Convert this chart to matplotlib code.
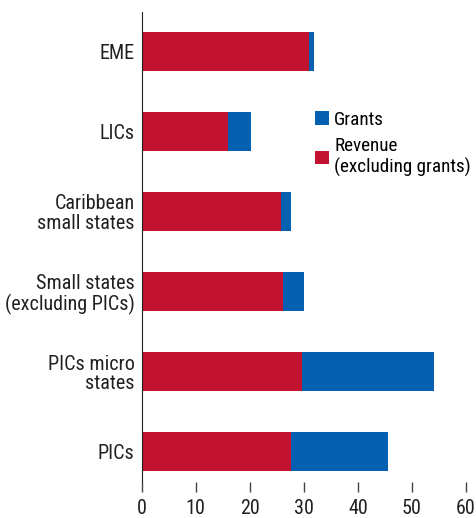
import matplotlib
matplotlib.use("Agg")
import matplotlib.pyplot as plt
import numpy as np

categories = ["EME", "LICs", "Caribbean\nsmall states", "Small states\n(excluding PICs)",
              "PICs micro\nstates", "PICs"]
revenue = [31.0, 15.9, 25.7, 26.2, 29.6, 27.7]
grants = [0.8, 4.3, 1.9, 3.8, 24.4, 17.8]
xticks = [0, 10, 20, 30, 40, 50, 60]

red = "#C3122F"
blue = "#0460B0"

plt.rcParams.update({
    "font.family": ["Roboto Condensed", "DejaVu Sans"],
    "font.size": 14.5,
})

fig = plt.figure(figsize=[4.77, 5.18], dpi=100)
ax = fig.add_axes([0.297, 0.0695, 0.68, 0.907])

ys = np.arange(len(categories))[::-1]
ax.barh(ys, revenue, height=0.49, color=red, label="Revenue\n(excluding grants)")
ax.barh(ys, grants, left=revenue, height=0.49, color=blue, label="Grants")

ax.set_yticks(ys)
ax.set_yticklabels(categories, linespacing=1.05)
ax.set_xticks(xticks)
ax.set_xlim(0, 60)
ax.set_ylim(-0.38, 5.49)

for s in ["top", "right", "bottom"]:
    ax.spines[s].set_visible(False)
ax.spines["left"].set_color("#222222")
ax.tick_params(axis="y", length=0, pad=5, colors="#231f20")
ax.tick_params(axis="x", length=7, width=1, color="#444444", pad=5, labelcolor="#231f20")

h, l = ax.get_legend_handles_labels()
leg = ax.legend(h[::-1], l[::-1], loc="upper left", bbox_to_anchor=(0.535, 0.79),
                frameon=False, handlelength=0.7, handleheight=0.7, handletextpad=0.3,
                labelspacing=0.45, borderaxespad=0, borderpad=0, fontsize=13.8)
for t in leg.get_texts():
    t.set_linespacing(1.15)

fig.savefig("out.png", dpi=100)
